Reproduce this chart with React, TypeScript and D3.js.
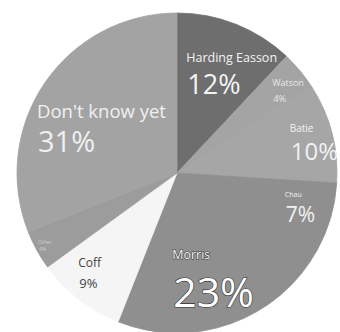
import React from "react";
import * as d3 from "d3";

const names = ["Harding Easson", "Watson", "Batie", "Chau", "Morris", "Coff", "Other", "Don't know yet"];
const values = [12, 4, 10, 7, 23, 9, 4, 31];
const colors = ["#6e6e6e", "#a4a4a4", "#a6a6a6", "#8f8f8f", "#8f8f8f", "#f5f5f5", "#9c9c9c", "#a3a3a3"];

// label styling: offsets relative to arc centroid, font sizes, colours
const labelStyle = [
  { dx: -29, dy: -14, gap: 32, nameSize: 12.5, pctSize: 27, fill: "#f4f4f4", stroke: "none" },
  { dx: 15, dy: -21, gap: 16, nameSize: 9, pctSize: 9.5, fill: "#e8e8e8", stroke: "none" },
  { dx: 12, dy: -15, gap: 28, nameSize: 10, pctSize: 24, fill: "#f2f2f2", stroke: "none" },
  { dx: 8, dy: -5, gap: 25, nameSize: 7, pctSize: 21, fill: "#f2f2f2", stroke: "none" },
  { dx: -40, dy: -12, gap: 48, nameSize: 12.5, pctSize: 41, fill: "#ffffff", stroke: "#333333" },
  { dx: -35, dy: 12, gap: 21, nameSize: 12, pctSize: 13, fill: "#444444", stroke: "none" },
  { dx: -48, dy: 21, gap: 7, nameSize: 5, pctSize: 5, fill: "#d0d0d0", stroke: "none" },
  { dx: -54, dy: 3, gap: 34, nameSize: 18.5, pctSize: 29, fill: "#f0f0f0", stroke: "none" },
];

export default function App() {
  const width = 340;
  const height = 332;
  const cx = 177;
  const cy = 173;
  const r = 160;

  const pie = d3.pie<number>().sort(null).value((d) => d).startAngle(0).endAngle(2 * Math.PI);
  const arcs = pie(values);
  const arc = d3.arc<d3.PieArcDatum<number>>().innerRadius(0).outerRadius(r);
  const labelArc = d3.arc<d3.PieArcDatum<number>>().innerRadius(r * 0.65).outerRadius(r * 0.65);

  return (
    <svg
      width={width}
      height={height}
      style={{ position: "absolute", left: 0, top: 0, background: "#ffffff" }}
      fontFamily="'Open Sans', 'Noto Sans', sans-serif"
    >
      <g transform={`translate(${cx},${cy})`}>
        {arcs.map((a, i) => (
          <path key={i} d={arc(a) || ""} fill={colors[i]} stroke={colors[i]} strokeWidth={0.8} />
        ))}
        {arcs.map((a, i) => {
          const [x, y] = labelArc.centroid(a);
          const s = labelStyle[i];
          const lx = x + s.dx;
          const ly = y + s.dy;
          return (
            <g key={"l" + i}>
              <text
                x={lx}
                y={ly}
                fontSize={s.nameSize}
                fill={s.fill}
                stroke={s.stroke}
                strokeWidth={s.stroke === "none" ? 0 : 1}
                paintOrder="stroke"
              >
                {names[i]}
              </text>
              <text
                x={lx + 1}
                y={ly + s.gap}
                fontSize={s.pctSize}
                fill={s.fill}
                stroke={s.stroke}
                strokeWidth={s.stroke === "none" ? 0 : 1.2}
                paintOrder="stroke"
              >
                {`${values[i]}%`}
              </text>
            </g>
          );
        })}
      </g>
    </svg>
  );
}
